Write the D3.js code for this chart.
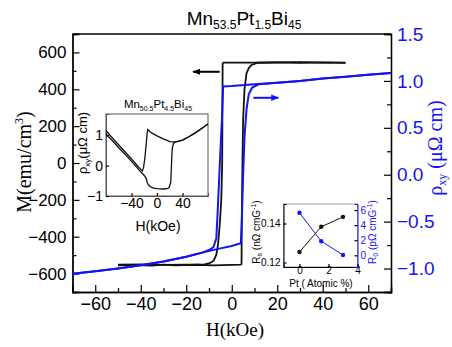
<!DOCTYPE html>
<html>
<head>
<meta charset="utf-8">
<script src="https://cdn.jsdelivr.net/npm/d3@7"></script>
<style>
  body { margin: 0; background: #fff; }
  text { font-family: "Liberation Sans", Arial, sans-serif; }
  .serif { font-family: "Liberation Serif", "Times New Roman", serif; }
</style>
</head>
<body>
<div id="chart"></div>
<script>
// ---- data ----
// magnetisation loop, [H kOe, M emu/cm3]
const mDown = [[50,543],[40,546],[30,544],[20,546],[10,545],[0,545],[-3.6,545],[-4.0,540],[-4.1,300],[-4.2,0],
  [-4.6,-200],[-5.3,-336],[-6.0,-440],[-6.8,-499],[-8,-530],[-9.7,-544],[-12,-550],[-20,-551],[-30,-553],[-40,-550],[-50,-552]]
const mUp = [[-50,-556],[-45,-553],[-35,-557],[-30,-551],[-25,-556],[-15,-552],[-8,-555],[0,-553],[4.0,-552],[4.3,-548],
  [4.4,-340],[4.7,0],[5.0,233],[5.6,400],[6.5,487],[7.5,515],[8.7,532],[11.6,544],[20,546],[30,547],[40,545],[50,545]]
// Hall resistivity loop, [H kOe, rho uOhm cm]
const rhoUp = [[-70,-1.055],[-60,-1.03],[-50,-1.0],[-40,-0.965],[-30,-0.925],[-20,-0.875],[-13,-0.83],[-5,-0.785],[0,-0.76],
  [4.0,-0.73],[4.4,-0.5],[5.0,0],[5.6,0.4],[6.5,0.7],[7.5,0.86],[9,0.93],[12,0.965],[20,0.98],[30,1.0],[40,1.025],[50,1.045],[60,1.065],[70,1.085]]
const rhoDown = [[70,1.085],[60,1.065],[50,1.045],[40,1.025],[30,1.0],[20,0.98],[10,0.965],[0,0.945],[-3.8,0.94],[-4.3,0.6],
  [-5.3,0.085],[-6.2,-0.4],[-6.8,-0.68],[-8,-0.77],[-9.7,-0.80],[-13,-0.83],[-20,-0.875],[-30,-0.925],[-40,-0.965],[-50,-1.0],[-60,-1.03],[-70,-1.055]]
// inset: Mn50.5Pt4.5Bi45 rho_xy
const inDown = [[80,1.37],[70,1.22],[60,1.08],[50,0.95],[40,0.84],[32,0.79],[25,0.78],[20,0.79],[10,0.88],[0,0.98],[-8,1.07],
  [-14.5,1.19],[-15.5,1.05],[-17,0.7],[-19,0.25],[-21,-0.05],[-23,-0.18],[-30,-0.02],[-40,0.22],[-50,0.45],[-60,0.68],[-70,0.91],[-80,1.15]]
const inUp = [[-80,1.04],[-70,0.82],[-60,0.59],[-50,0.37],[-40,0.14],[-30,-0.1],[-25,-0.22],[-21,-0.3],[-18,-0.38],[-16.5,-0.45],
  [-15,-0.58],[-13,-0.65],[-10,-0.7],[-5,-0.74],[0,-0.76],[10,-0.77],[16,-0.76],[19,-0.72],[21.5,-0.55],[22.5,-0.1],[23.3,0.35],
  [24.2,0.6],[26,0.73],[29,0.78],[33,0.8],[40,0.84],[50,0.95],[60,1.08],[70,1.22],[80,1.37]]
// inset: Rs and R0 vs Pt content
const ptX = [0, 1.5, 3]
const rsVals = [0.1254, 0.1383, 0.1434]
const r0Vals = [5.64, 1.87, 0.05]
// arrows [H start, H end, level]
const arrowM = [-5.3, -17, 495]
const arrowRho = [9.5, 20.5, 0.82]

// tick labels
const xTicks = [-60,-40,-20,0,20,40,60]
const yLTicks = [-600,-400,-200,0,200,400,600]
const yRTicks = [-1.0,-0.5,0.0,0.5,1.0,1.5]
const in1XTicks = [-40, 0, 40]
const in1YTicks = [-1, 0, 1]
const in2XTicks = [0, 2, 4]
const in2YLTicks = [0.12, 0.14]
const in2YRTicks = [0, 2, 4, 6]

const blue = "#1414f0"
const W = 452, H = 347
const svg = d3.select("#chart").append("svg").attr("width", W).attr("height", H)

const plot = {left: 72.5, right: 391, top: 34, bottom: 292}
const x = d3.scaleLinear().domain([-70, 70]).range([plot.left, plot.right])
const yL = d3.scaleLinear().domain([-700, 700]).range([plot.bottom, plot.top])
const yR = d3.scaleLinear().domain([-1.25, 1.5]).range([plot.bottom, plot.top])

function styleAxis(g, color, size) {
  g.select(".domain").attr("stroke", "#000").attr("stroke-width", 1.3)
  g.selectAll(".tick line").attr("stroke", "#000").attr("stroke-width", 1.2)
  g.selectAll(".tick text").attr("fill", color).attr("font-size", size)
    .attr("font-family", "Liberation Sans, Arial, sans-serif")
}

// minor ticks
svg.append("g").attr("transform", `translate(0,${plot.bottom})`)
  .call(d3.axisBottom(x).tickValues(d3.range(-70, 71, 20)).tickSize(-4).tickFormat(""))
  .call(g => styleAxis(g, "#000", 17))
svg.append("g").attr("transform", `translate(${plot.left},0)`)
  .call(d3.axisLeft(yL).tickValues(d3.range(-700, 701, 200)).tickSize(-4).tickFormat(""))
  .call(g => styleAxis(g, "#000", 17))
svg.append("g").attr("transform", `translate(${plot.right},0)`)
  .call(d3.axisRight(yR).tickValues(d3.range(-1.25, 1.5, 0.5)).tickSize(-4).tickFormat(""))
  .call(g => styleAxis(g, "#000", 17))

// major ticks
svg.append("g").attr("transform", `translate(0,${plot.bottom})`)
  .call(d3.axisBottom(x).tickValues(xTicks).tickSize(-7).tickPadding(5).tickFormat(d3.format("d")))
  .call(g => styleAxis(g, "#000", 18))
svg.append("g").attr("transform", `translate(${plot.left},0)`)
  .call(d3.axisLeft(yL).tickValues(yLTicks).tickSize(-7).tickPadding(6).tickFormat(d3.format("d")))
  .call(g => styleAxis(g, "#000", 17))
svg.append("g").attr("transform", `translate(${plot.right},0)`)
  .call(d3.axisRight(yR).tickValues(yRTicks).tickSize(-7).tickPadding(6).tickFormat(d3.format(".1f")))
  .call(g => styleAxis(g, blue, 19))
svg.append("line").attr("x1", plot.left).attr("x2", plot.right).attr("y1", plot.top).attr("y2", plot.top)
  .attr("stroke", "#000").attr("stroke-width", 1.3)

// curves
const lineM = d3.line().x(d => x(d[0])).y(d => yL(d[1]))
const lineR = d3.line().x(d => x(d[0])).y(d => yR(d[1]))
svg.append("path").attr("d", lineM(mDown)).attr("fill", "none").attr("stroke", "#111").attr("stroke-width", 1.8)
svg.append("path").attr("d", lineM(mUp)).attr("fill", "none").attr("stroke", "#111").attr("stroke-width", 1.8)
svg.append("path").attr("d", lineR(rhoUp)).attr("fill", "none").attr("stroke", blue).attr("stroke-width", 2)
svg.append("path").attr("d", lineR(rhoDown)).attr("fill", "none").attr("stroke", blue).attr("stroke-width", 2)

// arrows
const defs = svg.append("defs")
function marker(id, color) {
  defs.append("marker").attr("id", id).attr("viewBox", "0 0 10 10").attr("refX", 9).attr("refY", 5)
    .attr("markerWidth", 4).attr("markerHeight", 4).attr("orient", "auto")
    .append("path").attr("d", "M0,1L10,5L0,9Z").attr("fill", color)
}
marker("ahK", "#000"); marker("ahB", blue)
svg.append("line").attr("x1", x(arrowM[0])).attr("x2", x(arrowM[1])).attr("y1", yL(arrowM[2])).attr("y2", yL(arrowM[2]))
  .attr("stroke", "#000").attr("stroke-width", 2).attr("marker-end", "url(#ahK)")
svg.append("line").attr("x1", x(arrowRho[0])).attr("x2", x(arrowRho[1])).attr("y1", yR(arrowRho[2])).attr("y2", yR(arrowRho[2]))
  .attr("stroke", blue).attr("stroke-width", 2).attr("marker-end", "url(#ahB)")

// title
const title = svg.append("text").attr("x", 244).attr("y", 25).attr("text-anchor", "middle").attr("font-size", 19)
title.append("tspan").text("Mn")
title.append("tspan").attr("font-size", 12).attr("dy", 4).text("53.5")
title.append("tspan").attr("dy", -4).text("Pt")
title.append("tspan").attr("font-size", 12).attr("dy", 4).text("1.5")
title.append("tspan").attr("dy", -4).text("Bi")
title.append("tspan").attr("font-size", 12).attr("dy", 4).text("45")

// axis titles
svg.append("text").attr("class", "serif").attr("x", 235).attr("y", 336).attr("text-anchor", "middle")
  .attr("font-size", 19).text("H(kOe)")
const yl = svg.append("text").attr("class", "serif").attr("transform", "translate(31,162) rotate(-90)")
  .attr("text-anchor", "middle").attr("font-size", 20)
yl.append("tspan").text("M(emu/cm")
yl.append("tspan").attr("font-size", 12).attr("dy", -8).text("3")
yl.append("tspan").attr("dy", 8).text(")")
const yr = svg.append("text").attr("class", "serif").attr("transform", "translate(442,148) rotate(-90)")
  .attr("text-anchor", "middle").attr("font-size", 20).attr("fill", blue)
yr.append("tspan").text("\u03c1")
yr.append("tspan").attr("font-size", 12).attr("dy", 4).text("xy")
yr.append("tspan").attr("dy", -4).text(" (\u03bc\u03a9 cm)")

// ---- inset 1 ----
const in1 = {left: 106, right: 208, top: 114, bottom: 196}
const ix = d3.scaleLinear().domain([-80, 80]).range([in1.left, in1.right])
const iy = d3.scaleLinear().domain([-1, 1.7]).range([in1.bottom, in1.top])
svg.append("rect").attr("x", in1.left).attr("y", in1.top).attr("width", in1.right - in1.left)
  .attr("height", in1.bottom - in1.top).attr("fill", "#fff").attr("stroke", "#555").attr("stroke-width", 1)
svg.append("g").attr("transform", `translate(0,${in1.bottom})`)
  .call(d3.axisBottom(ix).tickValues(in1XTicks).tickSize(-3).tickPadding(2).tickFormat(d3.format("d")))
  .call(g => styleAxis(g, "#000", 14))
  .call(g => g.select(".domain").attr("stroke", "#555").attr("stroke-width", 1))
svg.append("g").attr("transform", `translate(${in1.left},0)`)
  .call(d3.axisLeft(iy).tickValues(in1YTicks).tickSize(-3).tickPadding(3).tickFormat(d3.format("d")))
  .call(g => styleAxis(g, "#000", 14))
  .call(g => g.select(".domain").attr("stroke", "#555").attr("stroke-width", 1))
const lineI = d3.line().x(d => ix(d[0])).y(d => iy(d[1]))
svg.append("path").attr("d", lineI(inDown)).attr("fill", "none").attr("stroke", "#111").attr("stroke-width", 1.3)
svg.append("path").attr("d", lineI(inUp)).attr("fill", "none").attr("stroke", "#111").attr("stroke-width", 1.3)
const t1 = svg.append("text").attr("x", 158).attr("y", 108).attr("text-anchor", "middle").attr("font-size", 11.5)
t1.append("tspan").text("Mn")
t1.append("tspan").attr("font-size", 7).attr("dy", 3).text("50.5")
t1.append("tspan").attr("dy", -3).text("Pt")
t1.append("tspan").attr("font-size", 7).attr("dy", 3).text("4.5")
t1.append("tspan").attr("dy", -3).text("Bi")
t1.append("tspan").attr("font-size", 7).attr("dy", 3).text("45")
svg.append("text").attr("x", 158).attr("y", 231).attr("text-anchor", "middle").attr("font-size", 14).text("H(kOe)")
const il = svg.append("text").attr("transform", "translate(87,143) rotate(-90)").attr("text-anchor", "middle").attr("font-size", 13)
il.append("tspan").text("\u03c1")
il.append("tspan").attr("font-size", 8).attr("dy", 3).text("xy")
il.append("tspan").attr("dy", -3).text("(\u03bc\u03a9 cm)")

// ---- inset 2 ----
const in2 = {left: 283.5, right: 357.5, top: 204, bottom: 267}
const px = d3.scaleLinear().domain([-1.1, 4]).range([in2.left, in2.right])
const pyL = d3.scaleLinear().domain([0.1177, 0.15]).range([in2.bottom, in2.top])
const pyR = d3.scaleLinear().domain([-1.55, 6.8]).range([in2.bottom, in2.top])
svg.append("rect").attr("x", in2.left).attr("y", in2.top).attr("width", in2.right - in2.left)
  .attr("height", in2.bottom - in2.top).attr("fill", "#fff").attr("stroke", "#99a").attr("stroke-width", 1)
svg.append("g").attr("transform", `translate(0,${in2.bottom})`)
  .call(d3.axisBottom(px).tickValues(in2XTicks).tickSize(-3).tickPadding(0).tickFormat(d3.format("d")))
  .call(g => styleAxis(g, "#000", 10))
  .call(g => g.select(".domain").attr("stroke-width", 1))
svg.append("g").attr("transform", `translate(${in2.left},0)`)
  .call(d3.axisLeft(pyL).tickValues(in2YLTicks).tickSize(-3).tickPadding(3).tickFormat(d3.format(".2f")))
  .call(g => styleAxis(g, "#000", 10))
  .call(g => g.select(".domain").attr("stroke-width", 1))
svg.append("g").attr("transform", `translate(${in2.right},0)`)
  .call(d3.axisRight(pyR).tickValues(in2YRTicks).tickSize(-3).tickPadding(3).tickFormat(d3.format("d")))
  .call(g => styleAxis(g, blue, 10))
  .call(g => g.select(".domain").attr("stroke", blue).attr("stroke-width", 1))
const rsPts = ptX.map((p, i) => [p, rsVals[i]])
const r0Pts = ptX.map((p, i) => [p, r0Vals[i]])
svg.append("path").attr("d", d3.line().x(d => px(d[0])).y(d => pyL(d[1]))(rsPts))
  .attr("fill", "none").attr("stroke", "#111").attr("stroke-width", 1)
svg.append("path").attr("d", d3.line().x(d => px(d[0])).y(d => pyR(d[1]))(r0Pts))
  .attr("fill", "none").attr("stroke", blue).attr("stroke-width", 1)
svg.selectAll(".rs").data(rsPts).join("circle").attr("cx", d => px(d[0])).attr("cy", d => pyL(d[1])).attr("r", 2.2).attr("fill", "#111")
svg.selectAll(".r0").data(r0Pts).join("circle").attr("cx", d => px(d[0])).attr("cy", d => pyR(d[1])).attr("r", 2.2).attr("fill", blue)
svg.append("text").attr("x", 321).attr("y", 287).attr("text-anchor", "middle").attr("font-size", 10).text("Pt ( Atomic %)")
const rl = svg.append("text").attr("transform", "translate(260,232) rotate(-90)").attr("text-anchor", "middle").attr("font-size", 10)
rl.append("tspan").text("R")
rl.append("tspan").attr("font-size", 7).attr("dy", 2).text("s")
rl.append("tspan").attr("dy", -2).text(" (n\u03a9 cmG")
rl.append("tspan").attr("font-size", 7).attr("dy", -4).text("-1")
rl.append("tspan").attr("dy", 4).text(")")
const rr = svg.append("text").attr("transform", "translate(376,232) rotate(-90)").attr("text-anchor", "middle")
  .attr("font-size", 10).attr("fill", blue)
rr.append("tspan").text("R")
rr.append("tspan").attr("font-size", 7).attr("dy", 2).text("0")
rr.append("tspan").attr("dy", -2).text(" (p\u03a9 cmG")
rr.append("tspan").attr("font-size", 7).attr("dy", -4).text("-1")
rr.append("tspan").attr("dy", 4).text(")")
</script>
</body>
</html>
